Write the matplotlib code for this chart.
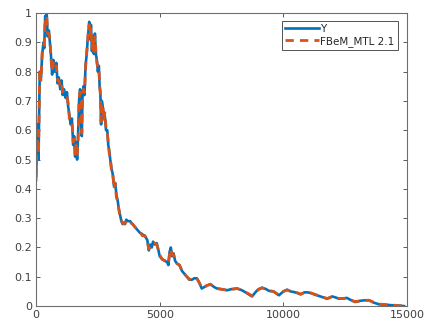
import matplotlib.pyplot as plt
import numpy as np

x_y = [0, 60, 100, 150, 200, 250, 300, 330, 370, 400, 430, 470, 520, 560, 600, 650,
       700, 760, 820, 870, 920, 980, 1030, 1080, 1130, 1200, 1250, 1300, 1350, 1400,
       1450, 1500, 1540, 1580, 1620, 1660, 1700, 1740, 1780, 1820, 1850, 1880, 1920,
       1960, 2000, 2050, 2080, 2120, 2150, 2190, 2220, 2260, 2300, 2340, 2380, 2420,
       2460, 2500, 2540, 2570, 2600, 2630, 2660, 2700, 2740, 2780, 2830, 2880, 2920,
       2960, 3000, 3050, 3100, 3150, 3200, 3250, 3300, 3350, 3400, 3450, 3500, 3550,
       3600, 3650, 3700, 3800, 3900, 4000, 4100, 4200, 4300, 4400, 4500, 4560, 4620,
       4680, 4730, 4800, 4880, 4950, 5000, 5100, 5200, 5300, 5350, 5400, 5450, 5500,
       5560, 5620, 5700, 5800, 5900, 6000, 6100, 6200, 6300, 6400, 6500, 6600, 6700,
       6800, 6900, 7050, 7200, 7320, 7500, 7720, 7900, 8130, 8300, 8410, 8600, 8730,
       8900, 9000, 9140, 9300, 9420, 9600, 9820, 10000, 10150, 10300, 10430, 10550,
       10700, 10850, 10960, 11100, 11280, 11500, 11770, 11970, 12100, 12250, 12400,
       12570, 12700, 12900, 13100, 13300, 13460, 13650, 13870, 14100, 14390, 14600,
       14880]
y_true = [0.43, 0.62, 0.50, 0.80, 0.78, 0.86, 0.90, 0.88, 0.99, 0.95, 1.0, 0.92,
          0.94, 0.90, 0.86, 0.79, 0.84, 0.80, 0.83, 0.76, 0.78, 0.74, 0.77, 0.72,
          0.74, 0.71, 0.73, 0.68, 0.65, 0.62, 0.64, 0.55, 0.58, 0.51, 0.56, 0.50,
          0.58, 0.70, 0.74, 0.69, 0.58, 0.72, 0.75, 0.72, 0.82, 0.86, 0.90, 0.94,
          0.97, 0.91, 0.96, 0.87, 0.92, 0.86, 0.93, 0.86, 0.84, 0.80, 0.82, 0.75,
          0.73, 0.62, 0.70, 0.68, 0.64, 0.65, 0.60, 0.60, 0.55, 0.53, 0.50, 0.47,
          0.45, 0.41, 0.42, 0.38, 0.36, 0.33, 0.31, 0.29, 0.28, 0.285, 0.28, 0.295,
          0.29, 0.29, 0.28, 0.27, 0.26, 0.25, 0.245, 0.24, 0.225, 0.19, 0.21, 0.20,
          0.22, 0.21, 0.215, 0.19, 0.17, 0.16, 0.155, 0.15, 0.14, 0.185, 0.20, 0.17,
          0.18, 0.155, 0.145, 0.14, 0.12, 0.11, 0.10, 0.09, 0.09, 0.095, 0.095, 0.08,
          0.06, 0.065, 0.07, 0.075, 0.065, 0.06, 0.058, 0.054, 0.058, 0.06, 0.055,
          0.05, 0.04, 0.033, 0.05, 0.058, 0.063, 0.058, 0.052, 0.05, 0.037, 0.05,
          0.056, 0.05, 0.048, 0.045, 0.04, 0.047, 0.047, 0.045, 0.039, 0.033, 0.025,
          0.033, 0.03, 0.025, 0.026, 0.028, 0.022, 0.014, 0.018, 0.02, 0.02, 0.012,
          0.006, 0.005, 0.003, 0.002, 0.0]
y_pred = [0.44, 0.60, 0.52, 0.81, 0.77, 0.87, 0.89, 0.89, 0.98, 0.96, 0.99, 0.93,
          0.93, 0.91, 0.85, 0.80, 0.83, 0.81, 0.82, 0.77, 0.77, 0.75, 0.76, 0.73,
          0.73, 0.72, 0.72, 0.69, 0.64, 0.63, 0.63, 0.56, 0.57, 0.52, 0.55, 0.51,
          0.57, 0.71, 0.73, 0.70, 0.59, 0.71, 0.74, 0.73, 0.81, 0.87, 0.89, 0.95,
          0.96, 0.92, 0.95, 0.88, 0.91, 0.87, 0.92, 0.87, 0.83, 0.81, 0.81, 0.76,
          0.72, 0.63, 0.69, 0.69, 0.63, 0.66, 0.61, 0.59, 0.56, 0.52, 0.51, 0.46,
          0.46, 0.40, 0.42, 0.37, 0.36, 0.33, 0.30, 0.29, 0.285, 0.28, 0.285, 0.29,
          0.295, 0.285, 0.28, 0.27, 0.26, 0.255, 0.24, 0.24, 0.22, 0.195, 0.205,
          0.205, 0.215, 0.215, 0.21, 0.19, 0.175, 0.16, 0.155, 0.15, 0.145, 0.18,
          0.195, 0.175, 0.175, 0.16, 0.145, 0.14, 0.12, 0.11, 0.10, 0.092, 0.09,
          0.093, 0.095, 0.08, 0.062, 0.064, 0.07, 0.074, 0.066, 0.06, 0.057, 0.055,
          0.057, 0.06, 0.055, 0.05, 0.042, 0.035, 0.05, 0.057, 0.062, 0.058, 0.053,
          0.05, 0.038, 0.05, 0.055, 0.05, 0.048, 0.046, 0.041, 0.046, 0.047, 0.045,
          0.04, 0.033, 0.026, 0.032, 0.03, 0.026, 0.026, 0.027, 0.022, 0.015, 0.018,
          0.019, 0.02, 0.013, 0.007, 0.005, 0.004, 0.002, 0.001]

plt.rcParams['font.family'] = ['DejaVu Sans']

fig = plt.figure(figsize=(4.24, 3.26), dpi=100)
ax = fig.add_axes([0.085, 0.061, 0.875, 0.899])

ax.plot(x_y, y_true, color='#0072BD', lw=1.9, label='Y')
ax.plot(x_y, y_pred, color='#D95319', lw=2.0, ls='--', dashes=(3.0, 2.2),
        label='FBeM_MTL 2.1')

ax.set_xlim(0, 15000)
ax.set_ylim(0, 1)
ax.set_xticks([0, 5000, 10000, 15000])
ax.set_yticks(np.arange(0, 1.01, 0.1))
ax.set_yticklabels(['0', '0.1', '0.2', '0.3', '0.4', '0.5', '0.6', '0.7', '0.8', '0.9', '1'])
ax.tick_params(direction='in', top=True, right=True, length=3, width=0.6,
               labelsize=8, colors='#404040', pad=3)
for s in ax.spines.values():
    s.set_color('#6e6e6e')
    s.set_linewidth(0.8)

leg = ax.legend(loc='upper right', bbox_to_anchor=(0.98, 0.98), fontsize=7.5,
                frameon=True, fancybox=False, handlelength=3.3, borderpad=0.3,
                labelspacing=0.15, handletextpad=0.1, borderaxespad=0.2)
leg.get_frame().set_edgecolor('#262626')
leg.get_frame().set_linewidth(0.7)
for t in leg.get_texts():
    t.set_color('#262626')

fig.savefig('out.png', dpi=100)
